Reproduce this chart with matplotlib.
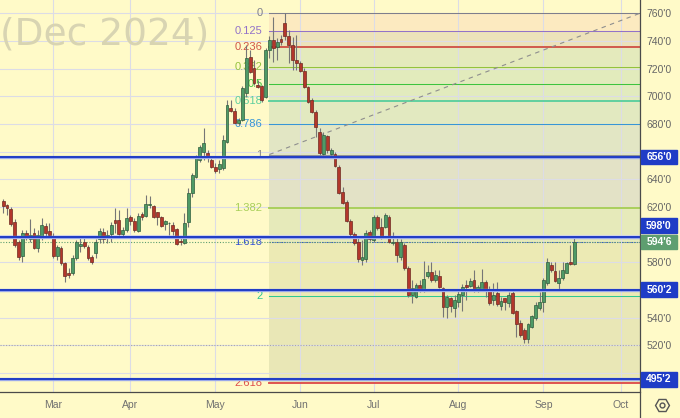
"""
Daily candles for the Dec 2024 contract with a Fibonacci extension,
support/resistance lines and TradingView-like price tags.
"""
import numpy as np
import pandas as pd
import matplotlib
matplotlib.use('Agg')
import matplotlib.pyplot as plt
from matplotlib.patches import Rectangle
from matplotlib.lines import Line2D

# trading calendar (CBOT holidays removed)
holidays = ['2024-02-19', '2024-03-29', '2024-05-27', '2024-06-19', '2024-07-04', '2024-09-02']

# daily OHLC, 12 Feb .. 13 Sep 2024
opens = [624.3, 621.4, 618.5, 609.3, 594.4, 584.5, 600.9, 596.6, 600.9, 590.5,
         598.5, 606.2, 602.8, 598.5, 584.5, 590.1, 579.2, 572.4, 572.4, 582.8,
         591.7, 594.8, 590.8, 584.0, 586.5, 596.6, 602.1, 597.3, 600.4, 610.5,
         610.5, 600.4, 603.3, 612.9, 610.0, 602.8, 614.9, 613.4, 621.6, 620.9,
         616.1, 612.9, 607.6, 608.2, 606.9, 603.8, 595.6, 594.1, 609.3, 629.8,
         641.8, 653.9, 659.9, 658.8, 653.9, 649.1, 647.2, 647.9, 667.1, 691.3,
         689.4, 680.5, 682.8, 702.1, 728.6, 720.2, 708.1, 707.4, 699.7, 733.4,
         740.7, 735.8, 741.2, 752.8, 743.6, 737.1, 726.2, 724.3, 718.5, 706.5,
         697.3, 688.4, 674.4, 658.2, 671.3, 658.2, 658.2, 648.6, 631.0, 623.8,
         610.0, 600.4, 594.8, 581.8, 582.3, 602.1, 596.1, 612.5, 605.7, 605.7,
         612.9, 593.7, 594.8, 584.0, 592.4, 575.6, 556.3, 555.1, 563.5, 559.4,
         570.0, 573.1, 567.1, 570.0, 561.1, 547.4, 553.9, 546.7, 551.5, 556.3,
         563.5, 562.8, 567.1, 560.4, 560.4, 565.9, 559.9, 552.7, 558.0, 548.3,
         553.9, 550.3, 558.0, 544.9, 536.3, 531.0, 524.3, 533.4, 539.4, 546.7,
         551.5, 564.7, 578.0, 573.9, 565.2, 568.4, 572.4, 580.0, 578.7]
highs = [625.7, 622.1, 619.9, 611.2, 596.1, 603.3, 603.3, 611.0, 604.7, 603.3,
         611.7, 608.2, 608.2, 600.9, 592.4, 591.7, 580.4, 575.8, 585.2, 596.1,
         598.5, 597.3, 592.4, 585.2, 596.6, 604.7, 604.7, 603.3, 609.0, 619.0,
         617.8, 605.7, 619.0, 614.1, 611.7, 615.4, 616.3, 628.6, 628.0, 621.4,
         616.5, 613.4, 610.5, 608.8, 609.3, 604.5, 598.0, 615.4, 633.7, 644.3,
         657.5, 664.5, 676.8, 661.1, 655.3, 651.8, 653.9, 672.0, 697.3, 697.3,
         691.5, 684.1, 707.4, 737.0, 733.4, 726.2, 711.8, 708.1, 734.9, 743.6,
         757.5, 742.1, 744.3, 760.0, 747.9, 743.1, 744.3, 725.5, 720.4, 707.4,
         698.7, 690.1, 676.8, 674.4, 672.0, 662.6, 659.9, 650.3, 634.6, 625.0,
         611.2, 601.8, 598.2, 596.2, 603.3, 603.3, 614.1, 614.1, 611.7, 615.4,
         614.1, 602.1, 597.3, 596.6, 593.9, 577.3, 567.1, 564.7, 567.1, 581.1,
         578.0, 580.4, 574.4, 574.4, 562.3, 556.3, 555.1, 556.3, 559.9, 564.0,
         567.1, 568.3, 574.4, 563.5, 574.9, 567.1, 563.0, 565.0, 566.0, 555.1,
         554.5, 558.7, 559.9, 545.4, 538.2, 532.2, 536.3, 541.8, 551.5, 558.7,
         568.4, 582.8, 580.4, 580.4, 574.4, 580.4, 580.4, 592.4, 598.6]
lows = [615.6, 614.1, 606.2, 591.2, 581.6, 580.4, 596.1, 594.8, 589.3, 587.6,
        596.1, 598.5, 598.5, 582.8, 581.6, 578.0, 565.9, 568.4, 570.7, 581.6,
        587.6, 590.1, 581.6, 578.7, 582.8, 593.9, 593.9, 593.9, 595.0, 600.9,
        599.7, 598.0, 602.1, 606.9, 602.1, 602.1, 610.5, 612.9, 619.0, 611.7,
        606.9, 605.2, 603.3, 599.7, 599.7, 592.4, 592.2, 593.2, 605.7, 627.4,
        640.7, 652.5, 653.9, 652.5, 648.1, 644.7, 644.7, 646.7, 666.2, 688.6,
        680.5, 679.2, 682.1, 699.5, 716.8, 708.1, 706.0, 695.8, 698.7, 727.7,
        725.0, 726.2, 737.0, 740.7, 724.0, 719.0, 719.0, 717.3, 706.0, 695.1,
        687.9, 670.8, 657.5, 656.3, 658.7, 656.8, 649.1, 629.3, 622.1, 609.1,
        599.2, 592.4, 580.1, 578.3, 580.1, 595.3, 594.6, 603.3, 596.8, 604.5,
        593.7, 592.4, 580.4, 581.6, 574.4, 554.8, 550.5, 553.9, 558.7, 558.7,
        568.4, 565.9, 565.9, 561.1, 540.6, 539.4, 544.2, 540.6, 547.8, 545.0,
        552.7, 561.9, 558.7, 558.7, 559.9, 555.1, 549.0, 549.0, 548.3, 545.4,
        545.4, 547.8, 542.6, 526.2, 526.2, 521.4, 521.4, 532.2, 538.2, 545.4,
        544.2, 563.5, 573.1, 565.9, 560.4, 567.1, 572.0, 578.0, 578.0]
closes = [620.9, 619.0, 607.4, 592.4, 584.0, 601.3, 598.5, 599.7, 590.1, 599.7,
          606.9, 600.9, 599.7, 584.5, 590.8, 579.6, 570.0, 570.7, 582.8, 594.8,
          593.2, 591.7, 582.8, 580.4, 594.8, 602.8, 596.6, 599.7, 606.9, 608.1,
          600.4, 603.3, 611.7, 610.0, 603.3, 613.4, 612.5, 622.1, 622.3, 612.5,
          612.9, 606.4, 610.0, 608.6, 602.8, 593.2, 594.8, 608.6, 629.8, 643.1,
          655.1, 663.3, 666.0, 655.1, 649.1, 646.2, 651.0, 668.4, 693.7, 689.6,
          680.9, 682.8, 705.8, 727.4, 717.8, 709.4, 706.9, 697.3, 733.4, 740.7,
          734.7, 739.4, 739.4, 743.6, 737.1, 726.2, 724.3, 718.5, 706.5, 696.1,
          688.8, 678.0, 658.8, 672.0, 661.1, 661.1, 649.8, 630.3, 623.0, 610.0,
          600.4, 593.7, 582.3, 583.5, 601.3, 596.6, 612.9, 604.5, 598.0, 614.1,
          594.8, 594.8, 585.2, 594.8, 575.6, 556.3, 561.1, 563.5, 559.9, 567.9,
          573.1, 567.1, 570.7, 561.9, 547.4, 555.1, 548.3, 552.7, 557.0, 561.9,
          562.3, 566.6, 560.4, 561.9, 565.9, 559.2, 550.7, 556.3, 549.8, 552.2,
          551.5, 556.3, 543.5, 535.3, 527.4, 524.3, 535.3, 541.1, 549.0, 551.5,
          567.1, 580.4, 574.4, 566.6, 568.4, 574.4, 579.2, 578.5, 594.75]

# fibonacci tool
fib_levels = [0, 0.125, 0.236, 0.382, 0.5, 0.618, 0.786, 1, 1.382, 1.618, 2, 2.618]
fib_labels = ['0', '0.125', '0.236', '0.382', '0.5', '0.618', '0.786', '1', '1.382', '1.618', '2', '2.618']
fib_high = 760.0
fib_low = 657.9
fib_anchor_bars = [69, 165]

# horizontal support / resistance lines
hlines = [656.0, 598.0, 560.25, 495.25]
last_price = closes[-1]
dotted_level = 520.0

BG = '#FFFAC8'
fib_colors = ['#7E7E8C', '#9272C8', '#D05548', '#93C23E', '#3EC43E', '#5CCF9E',
              '#3796D6', '#8A8A8A', '#A8CF58', '#3552D6', '#2FC893', '#DE4F4B']
fib_widths = [1.0, 1.0, 1.8, 1.0, 1.0, 1.8, 1.0, 1.0, 1.8, 1.0, 1.0, 1.8]
zone_colors = ['#FCEAC0', '#ECE2BA', '#E4EABC', '#E2EBBC', '#E2EBBE', '#E2E9C0',
               '#E2E6C4', '#E3E2C6', '#E6EABA', '#ECEAB4', '#E9E7B6']
BLUE = '#1F3CC6'
GREEN_TAG = '#5E9E70'


def fmt(p):
    whole = int(np.floor(p))
    eighths = int(round((p - whole) * 8))
    return f"{whole}'{eighths}"


days = pd.bdate_range('2024-02-12', '2024-10-31')
days = days[~days.isin(pd.to_datetime(holidays))]
month_pos = [i for i in range(1, len(days)) if days[i].month != days[i - 1].month]
month_lbl = [days[i].strftime('%b') for i in month_pos]

o = np.array(opens)
h = np.array(highs)
l = np.array(lows)
c = np.array(closes)
x = np.arange(len(o))

fig = plt.figure(figsize=(6.8, 4.18), dpi=100)
fig.patch.set_facecolor(BG)
ax = fig.add_axes([0, 26 / 418, 639.5 / 680, 392 / 418])
ax.set_facecolor(BG)
ax.set_xlim(-0.8, 164.9)
ax.set_ylim(486.2, 769.6)

# watermark
fig.text(0.0, 1 - 45 / 418, '(Dec 2024)', fontsize=27, color='#D8D4B2',
         ha='left', va='baseline', zorder=0.5)

# fib zones, lines, labels
fib_prices = [fib_high - lv * (fib_high - fib_low) for lv in fib_levels]
x0, x1 = fib_anchor_bars[0], 170
for i in range(len(fib_prices) - 1):
    ax.fill_between([x0, x1], fib_prices[i + 1], fib_prices[i],
                    color=zone_colors[i], lw=0, zorder=1)

# grid
for p in range(500, 761, 20):
    ax.axhline(p, color='#DCDCE6', lw=0.8, zorder=1.5)
for m in month_pos:
    ax.axvline(m, color='#DCDCE6', lw=0.8, zorder=1.5)

for p, col, lw, lab in zip(fib_prices, fib_colors, fib_widths, fib_labels):
    ls = (0, (1.2, 1.2)) if lab == '1.618' else '-'
    ax.plot([x0, x1], [p, p], color=col, lw=lw * 0.75, ls=ls, zorder=2)
    ax.text(x0 - 1.8, p, lab, color=col, fontsize=8, ha='right', va='center',
            family='Liberation Sans', zorder=2)

ax.plot(fib_anchor_bars, [fib_low, fib_high], color='#8E8E8E', lw=0.8,
        ls=(0, (4, 4)), zorder=2)

ax.axhline(dotted_level, color='#A8A8A8', lw=0.8, ls=(0, (1, 1.5)), zorder=2)
ax.axhline(last_price, color=GREEN_TAG, lw=0.8, ls=(0, (1, 1.5)), zorder=2)

# candles
up = c >= o
ax.vlines(x, l, h, color='#767676', lw=0.8, zorder=3)
bottom = np.minimum(o, c)
height = np.maximum(np.abs(c - o), 0.5)
ax.bar(x[up], height[up], bottom=bottom[up], width=0.74, color='#4E9A66',
       edgecolor='#2E5C3C', lw=0.5, zorder=4)
ax.bar(x[~up], height[~up], bottom=bottom[~up], width=0.74, color='#B3372B',
       edgecolor='#6E2A22', lw=0.5, zorder=4)

# drawn levels
for p in hlines:
    ax.axhline(p, color='#9AA8EA', lw=2.4, zorder=5)
    ax.axhline(p, color=BLUE, lw=1.4, zorder=5)

# axes styling
for s in ['top', 'left']:
    ax.spines[s].set_visible(False)
for s in ['right', 'bottom']:
    ax.spines[s].set_color('#4A4A4A')
    ax.spines[s].set_linewidth(0.9)
    ax.spines[s].set_zorder(6)

# price tags on the scale: (price, colour), pushed apart when they collide
tag_h = 10.6
tags = sorted([(v, BLUE) for v in hlines] + [(last_price, GREEN_TAG)])
tag_y = [t[0] for t in tags]
for i in range(1, len(tag_y)):
    if tag_y[i] - tag_y[i - 1] < tag_h:
        tag_y[i] = tag_y[i - 1] + tag_h + 1.0

# tick labels hidden behind a tag are not drawn
yt = list(range(500, 761, 20))
ax.yaxis.tick_right()
ax.set_yticks(yt)
ax.set_yticklabels([fmt(p) if all(abs(p - ty) > 5.5 for ty in tag_y) else '' for p in yt])
ax.tick_params(axis='y', length=0, pad=5, labelsize=7.5, labelcolor='#666666')
ax.set_xticks(month_pos)
ax.set_xticklabels(month_lbl)
ax.tick_params(axis='x', length=0, pad=5.5, labelsize=7.5, labelcolor='#707070')
for t in ax.get_xticklabels() + ax.get_yticklabels():
    t.set_family('Liberation Sans')

ytr = ax.get_yaxis_transform()
for (p, col), ty in zip(tags, tag_y):
    ax.add_patch(Rectangle((1.0016, ty - tag_h / 2), 0.057, tag_h, transform=ytr,
                           facecolor=col, edgecolor=col, clip_on=False, zorder=7))
    ax.text(1.0305, ty, fmt(p), transform=ytr, color='white', fontsize=7.5,
            fontweight='bold', ha='center', va='center', family='Liberation Sans',
            clip_on=False, zorder=8)

# scale separator and settings icon
fig.add_artist(Line2D([639.5 / 680, 639.5 / 680], [0, 26 / 418], color='#4A4A4A', lw=0.9))
fig.add_artist(Line2D([662 / 680], [1 - 405 / 418], marker='H', markersize=10,
                      mfc='none', mec='#555555', mew=1.0, transform=fig.transFigure))
fig.add_artist(Line2D([662 / 680], [1 - 405 / 418], marker='o', markersize=3.5,
                      mfc='none', mec='#555555', mew=1.0, transform=fig.transFigure))

fig.savefig('out.png', dpi=100, facecolor=BG)
